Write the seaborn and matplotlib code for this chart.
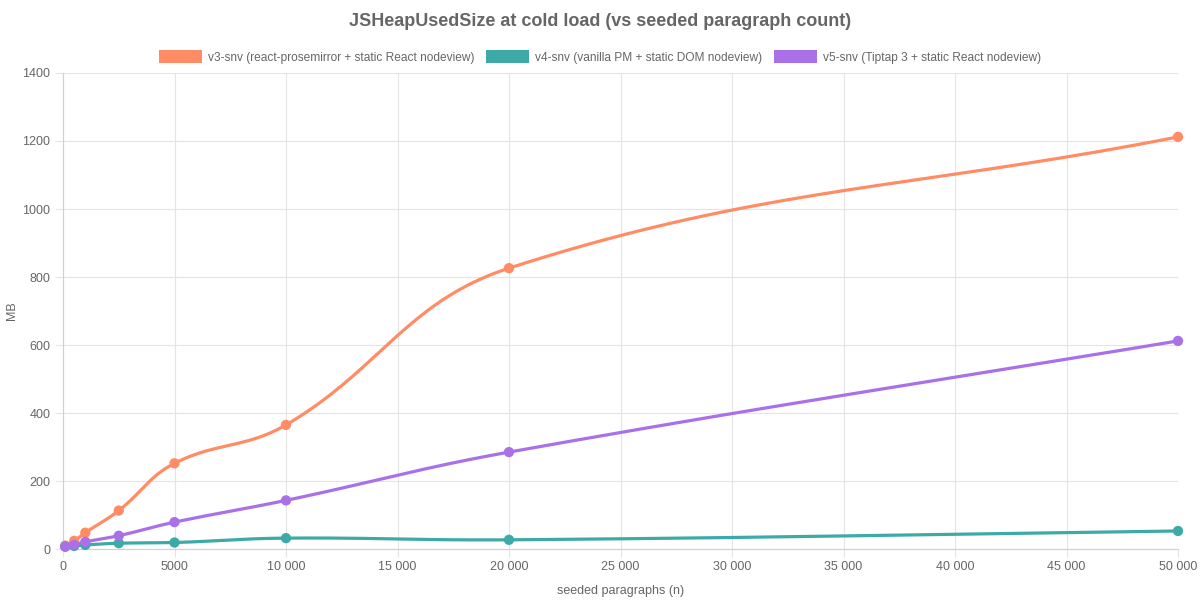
import numpy as np
import pandas as pd
import matplotlib
matplotlib.use("Agg")
import matplotlib.pyplot as plt
from matplotlib.patches import Patch
import seaborn as sns

# seeded paragraph counts
paragraphs = [100, 500, 1000, 2500, 5000, 10000, 20000, 50000]

# JSHeapUsedSize in MB
v3_mb = [10, 24, 48, 113, 252, 365, 826, 1212]
v4_mb = [7, 9, 12, 17, 19, 32, 27, 53]
v5_mb = [7, 12, 21, 39, 79, 143, 285, 612]

series_names = [
    "v3-snv (react-prosemirror + static React nodeview)",
    "v4-snv (vanilla PM + static DOM nodeview)",
    "v5-snv (Tiptap 3 + static React nodeview)",
]
series_colors = ["#ff8c64", "#3daaa7", "#a970e8"]

x_ticks = [0, 5000, 10000, 15000, 20000, 25000, 30000, 35000, 40000, 45000, 50000]
x_tick_labels = ["0", "5000", "10 000", "15 000", "20 000", "25 000", "30 000",
                 "35 000", "40 000", "45 000", "50 000"]
y_ticks = [0, 200, 400, 600, 800, 1000, 1200, 1400]

df = pd.DataFrame({
    "n": paragraphs * 3,
    "mb": v3_mb + v4_mb + v5_mb,
    "series": [series_names[0]] * 8 + [series_names[1]] * 8 + [series_names[2]] * 8,
})

sns.set_theme(style="white")
plt.rcParams["font.family"] = ["Liberation Sans", "DejaVu Sans"]
text_col = "#666666"

fig = plt.figure(figsize=(12, 6), dpi=100)
ax = fig.add_axes([63 / 1200, 51 / 600, 1115 / 1200, 476 / 600])
ax.set_xlim(0, 50000)
ax.set_ylim(0, 1400)

# pixels per data unit, so the spline is built the way the browser chart does it
sx = 1115 / 50000
sy = 476 / 1400


def spline(xs, ys, tension=0.4, steps=40):
    px = np.array(xs, float) * sx
    py = np.array(ys, float) * sy
    n = len(px)
    c1, c2 = [], []
    for i in range(n):
        prev = (px[max(i - 1, 0)], py[max(i - 1, 0)])
        cur = (px[i], py[i])
        nxt = (px[min(i + 1, n - 1)], py[min(i + 1, n - 1)])
        d01 = np.hypot(cur[0] - prev[0], cur[1] - prev[1])
        d12 = np.hypot(nxt[0] - cur[0], nxt[1] - cur[1])
        tot = d01 + d12
        s01 = d01 / tot if tot else 0
        s12 = d12 / tot if tot else 0
        fa, fb = tension * s01, tension * s12
        c1.append((cur[0] - fa * (nxt[0] - prev[0]), cur[1] - fa * (nxt[1] - prev[1])))
        c2.append((cur[0] + fb * (nxt[0] - prev[0]), cur[1] + fb * (nxt[1] - prev[1])))
    out_x, out_y = [], []
    t = np.linspace(0, 1, steps)
    for i in range(n - 1):
        p0 = np.array([px[i], py[i]])
        p1 = np.array(c2[i])
        p2 = np.array(c1[i + 1])
        p3 = np.array([px[i + 1], py[i + 1]])
        pts = ((1 - t) ** 3)[:, None] * p0 + (3 * (1 - t) ** 2 * t)[:, None] * p1 \
            + (3 * (1 - t) * t ** 2)[:, None] * p2 + (t ** 3)[:, None] * p3
        out_x.extend(pts[:, 0] / sx)
        out_y.extend(np.clip(pts[:, 1], 0, None) / sy)
    return out_x, out_y


for name, color in zip(series_names, series_colors):
    sub = df[df["series"] == name]
    cx, cy = spline(sub["n"], sub["mb"])
    ax.plot(cx, cy, color=color, lw=2.3, solid_capstyle="round", zorder=3)

sns.scatterplot(data=df, x="n", y="mb", hue="series", palette=series_colors,
                s=55, edgecolor="none", legend=False, ax=ax, zorder=4, clip_on=False)

ax.set_xticks(x_ticks)
ax.set_xticklabels(x_tick_labels)
ax.set_yticks(y_ticks)
ax.grid(True, color="#e4e4e4", lw=0.8)
ax.set_axisbelow(True)
for side in ["top", "right"]:
    ax.spines[side].set_visible(False)
for side in ["left", "bottom"]:
    ax.spines[side].set_color("#d0d0d0")
    ax.spines[side].set_linewidth(0.8)
ax.tick_params(axis="both", length=6, width=0.8, color="#e4e4e4",
               labelcolor=text_col, labelsize=9, pad=3, bottom=True, left=True)

ax.set_xlabel("seeded paragraphs (n)", color=text_col, fontsize=9, labelpad=8)
ax.set_ylabel("MB", color=text_col, fontsize=9, labelpad=3)

fig.suptitle("JSHeapUsedSize at cold load (vs seeded paragraph count)",
             y=0.978, fontsize=13, fontweight="bold", color=text_col)

handles = [Patch(facecolor=c, edgecolor="none") for c in series_colors]
fig.legend(handles, series_names, loc="center", bbox_to_anchor=(0.5, 0.905),
           ncol=3, frameon=False, fontsize=8.6, labelcolor=text_col,
           handlelength=3.6, handleheight=1.25, handletextpad=0.5, columnspacing=1.0)

fig.savefig("out.png", dpi=100)
